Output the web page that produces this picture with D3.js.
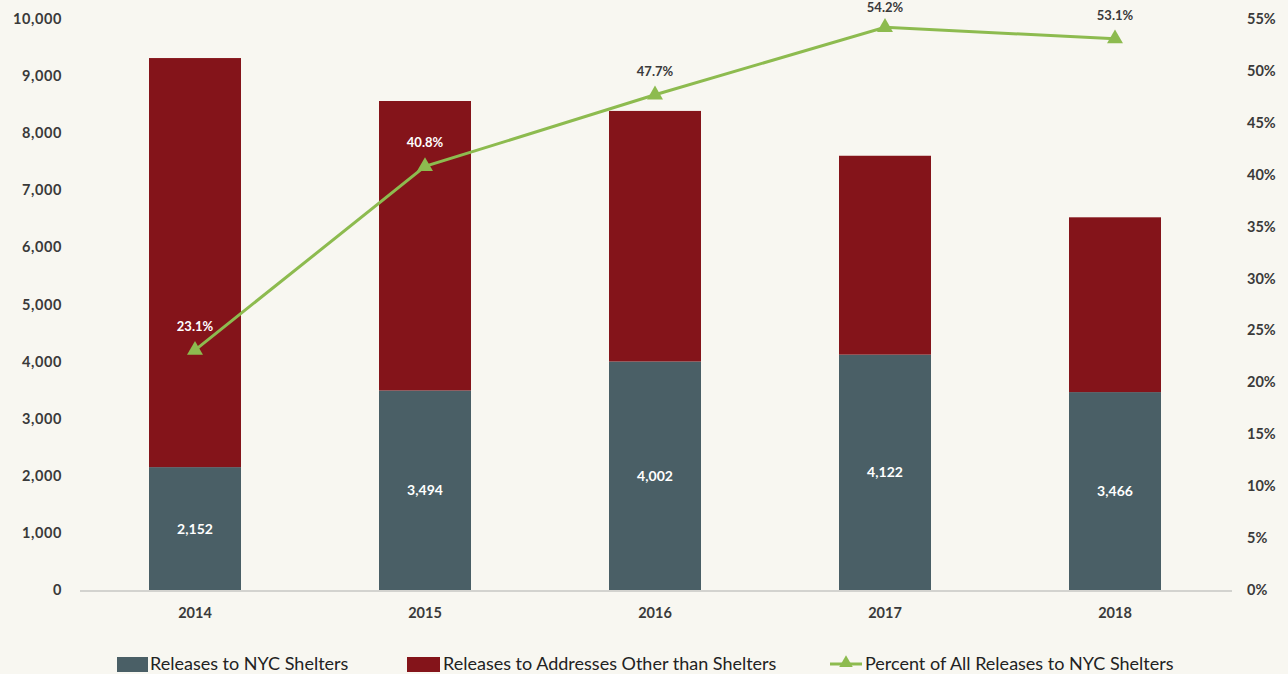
<!DOCTYPE html>
<html>
<head>
<meta charset="utf-8">
<script src="https://cdn.jsdelivr.net/npm/d3@7"></script>
<style>
  body { margin: 0; background: #f8f7f1; }
  svg { display: block; font-family: Lato, "Open Sans", sans-serif; }
</style>
</head>
<body>
<svg id="chart" width="1288" height="674"></svg>
<script>
const years = ['2014', '2015', '2016', '2017', '2018'];
const shelters = [2152, 3494, 4002, 4122, 3466];
const others = [7164, 5070, 4388, 3483, 3061];
const percents = [23.1, 40.8, 47.7, 54.2, 53.1];
const leftTicks = [0, 1000, 2000, 3000, 4000, 5000, 6000, 7000, 8000, 9000, 10000];
const rightTicks = [0, 5, 10, 15, 20, 25, 30, 35, 40, 45, 50, 55];
const seriesNames = ['Releases to NYC Shelters', 'Releases to Addresses Other than Shelters', 'Percent of All Releases to NYC Shelters'];

const COLOR_SHELTER = '#4a5f66';
const COLOR_OTHER = '#84141a';
const COLOR_LINE = '#8dbb4f';
const TEXT = '#3a3a3a';

const svg = d3.select('#chart');
const plotTop = 19;
const plotBottom = 590;

const x = d3.scaleBand().domain(years).range([80, 1230]).paddingInner(0.6).paddingOuter(0.3);
const yLeft = d3.scaleLinear().domain([0, 10000]).range([plotBottom, plotTop]);
const yRight = d3.scaleLinear().domain([0, 55]).range([plotBottom, plotTop]);

const data = years.map((year, i) => ({ year, shelter: shelters[i], other: others[i], pct: percents[i] }));

// bars
const bars = svg.append('g');
bars.selectAll('.shelter').data(data).enter().append('rect')
  .attr('x', d => x(d.year)).attr('width', x.bandwidth())
  .attr('y', d => yLeft(d.shelter)).attr('height', d => plotBottom - yLeft(d.shelter))
  .attr('fill', COLOR_SHELTER);
bars.selectAll('.other').data(data).enter().append('rect')
  .attr('x', d => x(d.year)).attr('width', x.bandwidth())
  .attr('y', d => yLeft(d.shelter + d.other)).attr('height', d => yLeft(d.shelter) - yLeft(d.shelter + d.other))
  .attr('fill', COLOR_OTHER);

// baseline
svg.append('line').attr('x1', 80).attr('x2', 1232).attr('y1', plotBottom + 1).attr('y2', plotBottom + 1)
  .attr('stroke', '#d3d3cf').attr('stroke-width', 2);

// value labels
bars.selectAll('.val').data(data).enter().append('text')
  .attr('x', d => x(d.year) + x.bandwidth() / 2)
  .attr('y', d => (yLeft(d.shelter) + plotBottom) / 2 + 5)
  .attr('text-anchor', 'middle').attr('fill', '#fff')
  .attr('font-size', 14).attr('font-weight', 700)
  .text(d => d3.format(',')(d.shelter));

// left axis
svg.append('g').selectAll('text').data(leftTicks).enter().append('text')
  .attr('x', 62).attr('y', d => yLeft(d) + 5).attr('text-anchor', 'end')
  .attr('fill', TEXT).attr('font-size', 14.5).attr('font-weight', 700).attr('letter-spacing', 0.6)
  .text(d => d3.format(',')(d));

// right axis
svg.append('g').selectAll('text').data(rightTicks).enter().append('text')
  .attr('x', 1247).attr('y', d => yRight(d) + 5).attr('text-anchor', 'start')
  .attr('fill', TEXT).attr('font-size', 14.5).attr('font-weight', 700)
  .text(d => d + '%');

// x labels
svg.append('g').selectAll('text').data(years).enter().append('text')
  .attr('x', d => x(d) + x.bandwidth() / 2).attr('y', 618).attr('text-anchor', 'middle')
  .attr('fill', TEXT).attr('font-size', 14.5).attr('font-weight', 700)
  .text(d => d);

// line
const cx = d => x(d.year) + x.bandwidth() / 2;
const line = d3.line().x(cx).y(d => yRight(d.pct));
svg.append('path').datum(data).attr('d', line)
  .attr('fill', 'none').attr('stroke', COLOR_LINE).attr('stroke-width', 3);
const tri = d3.symbol().type(d3.symbolTriangle).size(110);
svg.append('g').selectAll('path').data(data).enter().append('path')
  .attr('d', tri).attr('fill', COLOR_LINE)
  .attr('transform', d => `translate(${cx(d)},${yRight(d.pct)})`);
svg.append('g').selectAll('text').data(data).enter().append('text')
  .attr('x', cx).attr('y', d => Math.max(yRight(d.pct) - 19, 12)).attr('text-anchor', 'middle')
  .attr('fill', d => yRight(d.pct) - 19 > yLeft(d.shelter + d.other) + 10 ? '#fff' : TEXT)
  .attr('font-size', 13).attr('font-weight', 700)
  .text(d => d.pct.toFixed(1) + '%');

// legend
const legend = svg.append('g').attr('font-size', 18).attr('fill', '#222');
legend.append('rect').attr('x', 117).attr('y', 657).attr('width', 31).attr('height', 15).attr('fill', COLOR_SHELTER);
legend.append('text').attr('x', 150).attr('y', 670).text(seriesNames[0]);
legend.append('rect').attr('x', 407).attr('y', 657).attr('width', 33).attr('height', 15).attr('fill', COLOR_OTHER);
legend.append('text').attr('x', 443).attr('y', 670).text(seriesNames[1]);
legend.append('line').attr('x1', 830).attr('x2', 862).attr('y1', 664).attr('y2', 664)
  .attr('stroke', COLOR_LINE).attr('stroke-width', 3);
legend.append('path').attr('d', d3.symbol().type(d3.symbolTriangle).size(80))
  .attr('transform', 'translate(846,663)').attr('fill', COLOR_LINE);
legend.append('text').attr('x', 865).attr('y', 670).text(seriesNames[2]);
</script>
</body>
</html>
